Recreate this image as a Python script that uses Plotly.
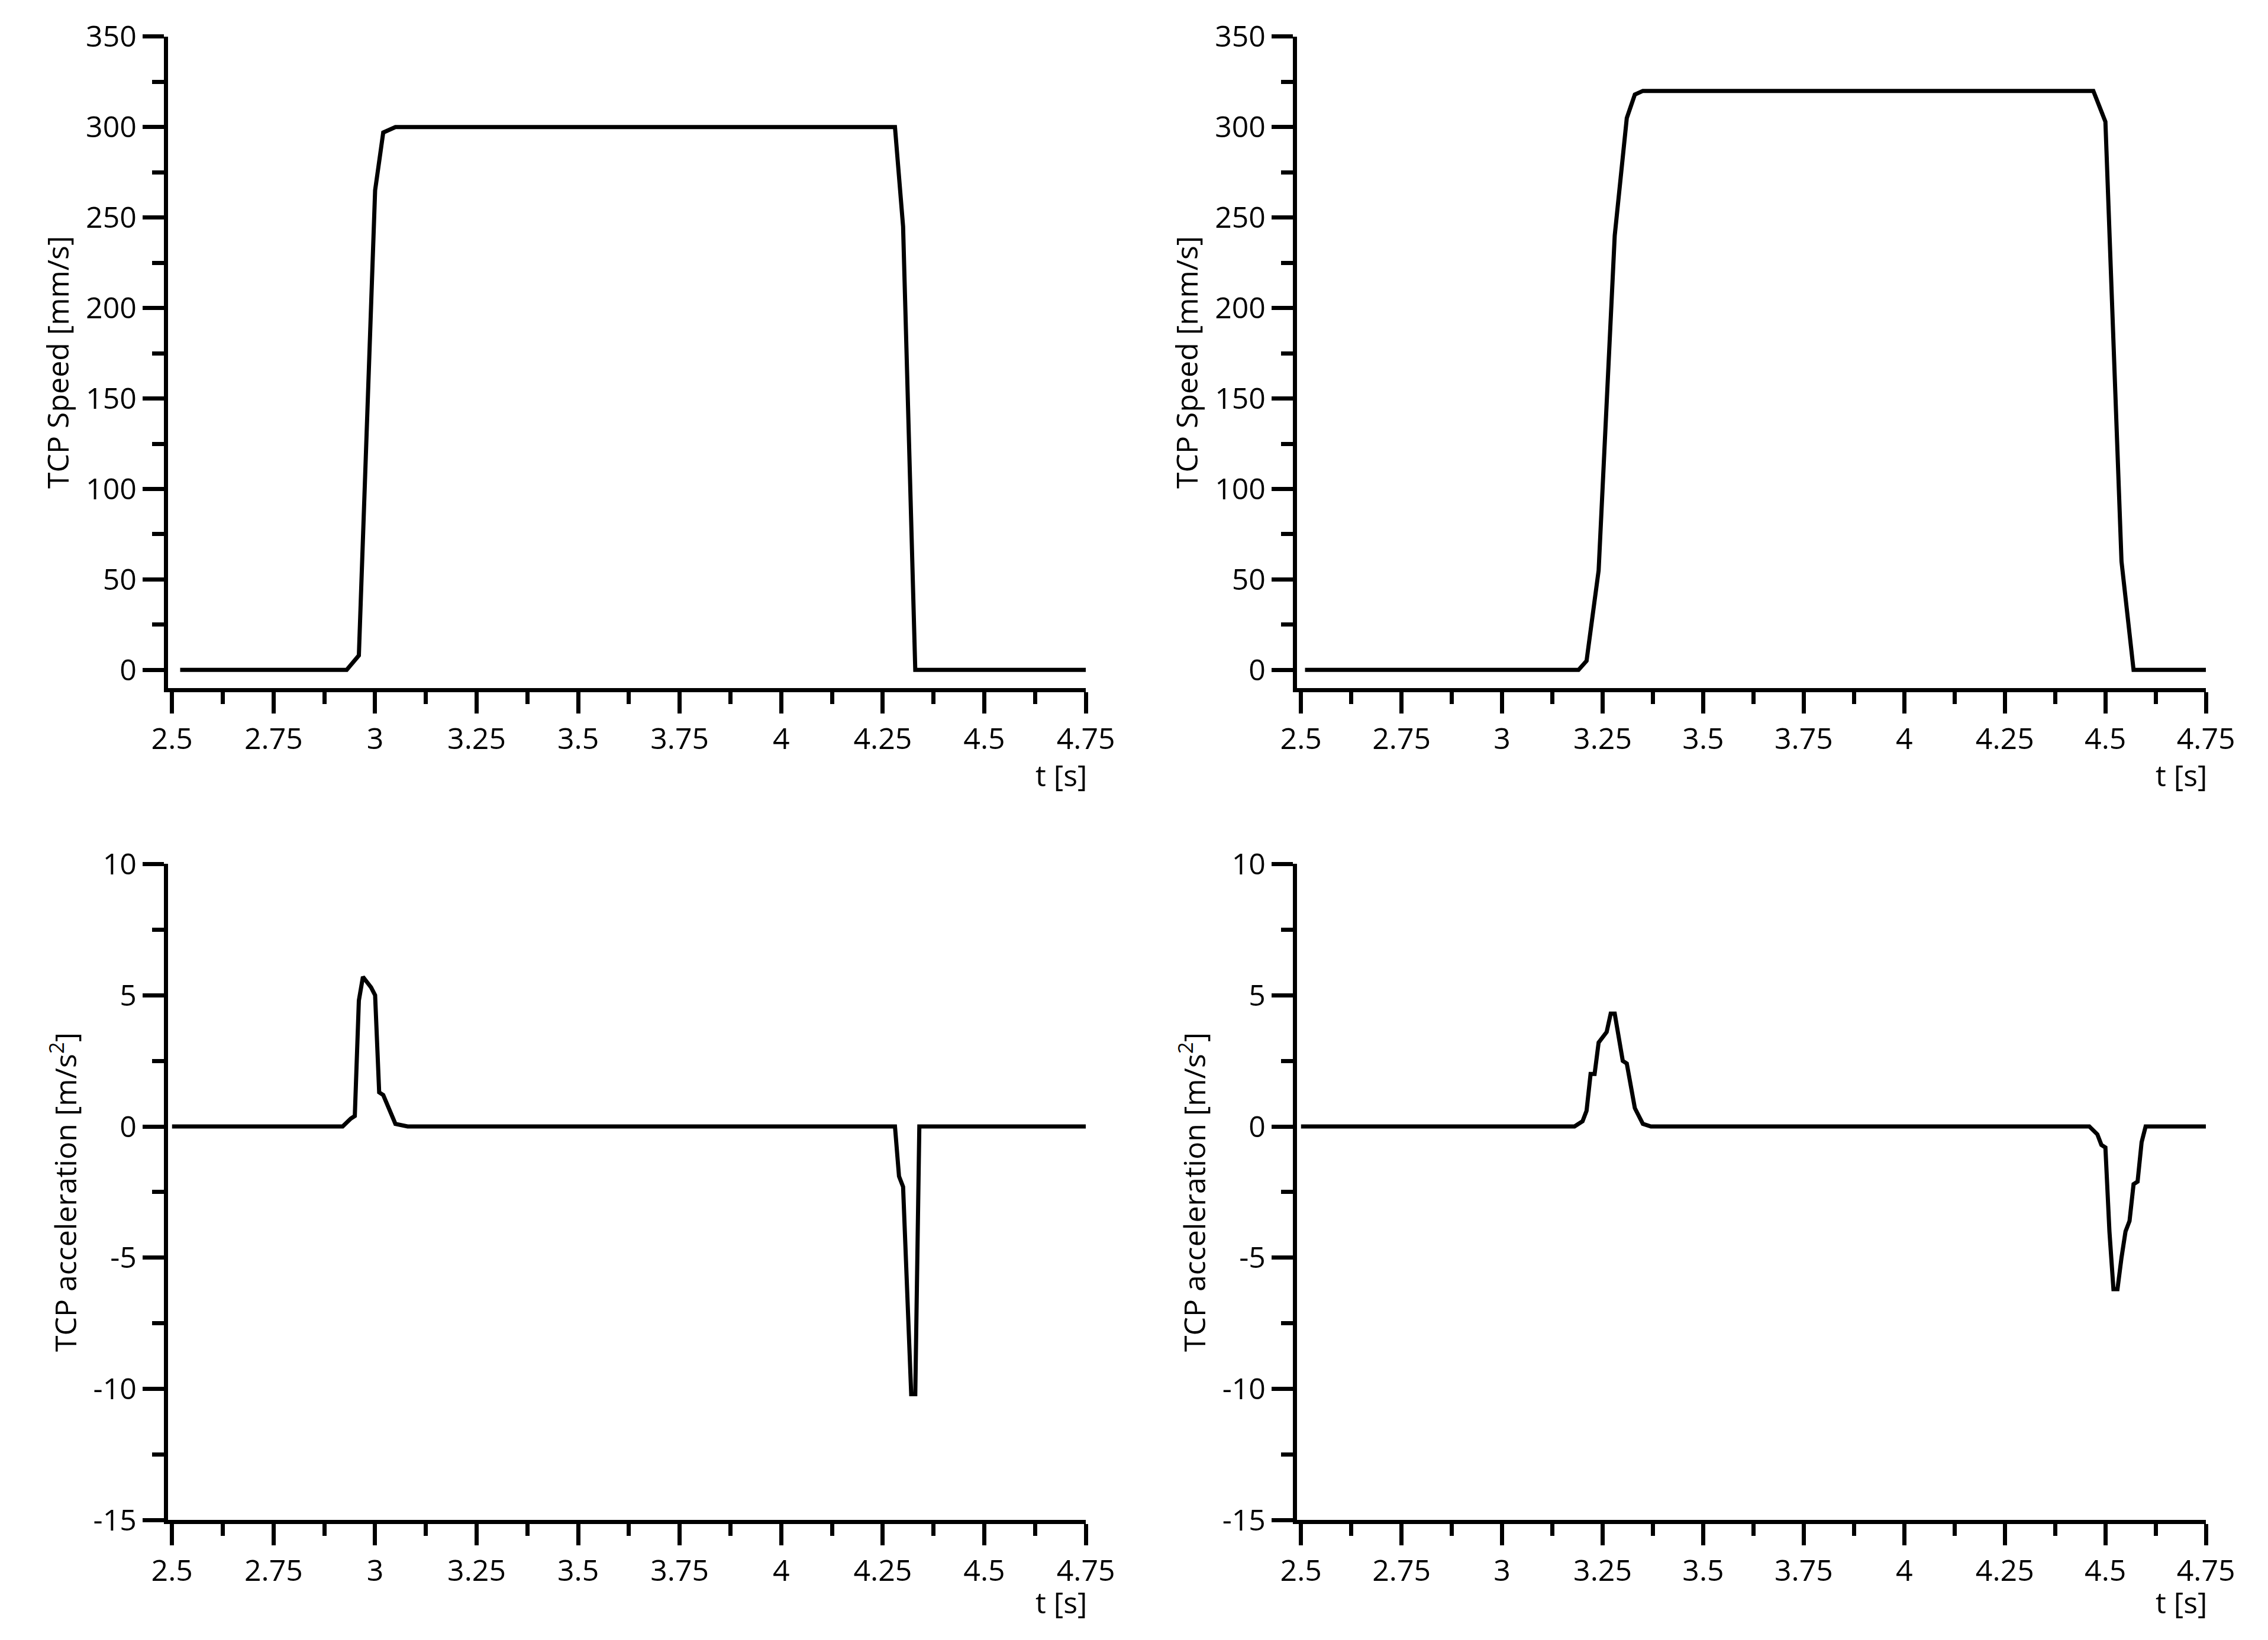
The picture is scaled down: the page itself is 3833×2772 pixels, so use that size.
import plotly.graph_objects as go
from plotly.subplots import make_subplots

# speed, left case
t_v1 = [2.52, 2.93, 2.96, 3.0, 3.02, 3.05, 3.5, 4.0, 4.28, 4.30, 4.33, 4.75]
v1 = [0, 0, 8, 265, 297, 300, 300, 300, 300, 245, 0, 0]
# speed, right case
t_v2 = [2.51, 3.19, 3.21, 3.24, 3.28, 3.31, 3.33, 3.35, 4.47, 4.50, 4.54, 4.57, 4.75]
v2 = [0, 0, 5, 55, 240, 305, 318, 320, 320, 303, 60, 0, 0]
# acceleration, left case
t_a1 = [2.5, 2.92, 2.94, 2.95, 2.96, 2.97, 2.99, 3.0, 3.01, 3.02, 3.05, 3.08,
        4.28, 4.29, 4.30, 4.31, 4.32, 4.33, 4.34, 4.75]
a1 = [0, 0, 0.3, 0.4, 4.8, 5.7, 5.3, 5.0, 1.3, 1.2, 0.1, 0,
      0, -1.9, -2.3, -6.0, -10.2, -10.2, 0, 0]
# acceleration, right case
t_a2 = [2.5, 3.18, 3.20, 3.21, 3.22, 3.23, 3.24, 3.26, 3.27, 3.28, 3.30, 3.31,
        3.33, 3.35, 3.37, 4.46, 4.48, 4.49, 4.50, 4.51, 4.52, 4.53, 4.54, 4.55,
        4.56, 4.57, 4.58, 4.59, 4.60, 4.75]
a2 = [0, 0, 0.2, 0.6, 2.0, 2.0, 3.2, 3.6, 4.3, 4.3, 2.5, 2.4,
      0.7, 0.1, 0, 0, -0.3, -0.7, -0.8, -4.0, -6.2, -6.2, -5.0, -4.0,
      -3.6, -2.2, -2.1, -0.6, 0, 0]

x_ticks = [2.5, 2.75, 3, 3.25, 3.5, 3.75, 4, 4.25, 4.5, 4.75]
x_labels = ["2.5", "2.75", "3", "3.25", "3.5", "3.75", "4", "4.25", "4.5", "4.75"]
v_ticks = [0, 50, 100, 150, 200, 250, 300, 350]
a_ticks = [-15, -10, -5, 0, 5, 10]
a_labels = ["-15", "-10", "-5", "0", "5", "10"]

fig = make_subplots(rows=2, cols=2)
line = dict(color="black", width=7)
fig.add_trace(go.Scatter(x=t_v1, y=v1, mode="lines", line=line), 1, 1)
fig.add_trace(go.Scatter(x=t_v2, y=v2, mode="lines", line=line), 1, 2)
fig.add_trace(go.Scatter(x=t_a1, y=a1, mode="lines", line=line), 2, 1)
fig.add_trace(go.Scatter(x=t_a2, y=a2, mode="lines", line=line), 2, 2)

font = dict(family="Open Sans", size=50, color="black")
axis = dict(showline=True, linecolor="black", linewidth=7, ticks="outside",
            tickwidth=7, tickcolor="black", ticklen=36, showgrid=False,
            zeroline=False, tickfont=font,
            minor=dict(ticks="outside", ticklen=20, tickwidth=7, tickcolor="black"))

xdom = [[0.066, 0.479], [0.574, 0.983]]
ydom = [[0.586, 0.993], [0.066, 0.476]]
for r in (1, 2):
    for c in (1, 2):
        fig.update_xaxes(axis, row=r, col=c, range=[2.49, 4.75], tickvals=x_ticks,
                         ticktext=x_labels, domain=xdom[c - 1],
                         minor_dtick=0.125, minor_tick0=2.5)
        if r == 1:
            fig.update_yaxes(axis, row=r, col=c, range=[-10, 350], tickvals=v_ticks,
                             minor_dtick=25, minor_tick0=0, domain=ydom[0],
                             title=dict(text="TCP Speed [mm/s]", font=font, standoff=15))
        else:
            fig.update_yaxes(axis, row=r, col=c, range=[-15, 10], tickvals=a_ticks,
                             ticktext=a_labels, minor_dtick=2.5, minor_tick0=0,
                             domain=ydom[1],
                             title=dict(text="TCP acceleration [m/s<sup>2</sup>]",
                                        font=font, standoff=15))

# "t [s]" labels at the right end of each x axis
for xr, yb in [(0.468, 0.545), (0.972, 0.545), (0.468, 0.028), (0.972, 0.028)]:
    fig.add_annotation(x=xr, y=yb, xref="paper", yref="paper", text="t [s]",
                       showarrow=False, font=font, xanchor="center", yanchor="top")

fig.update_layout(width=3833, height=2772, showlegend=False,
                  plot_bgcolor="white", paper_bgcolor="white",
                  margin=dict(l=0, r=0, t=0, b=0))
fig.write_html("out.html")
